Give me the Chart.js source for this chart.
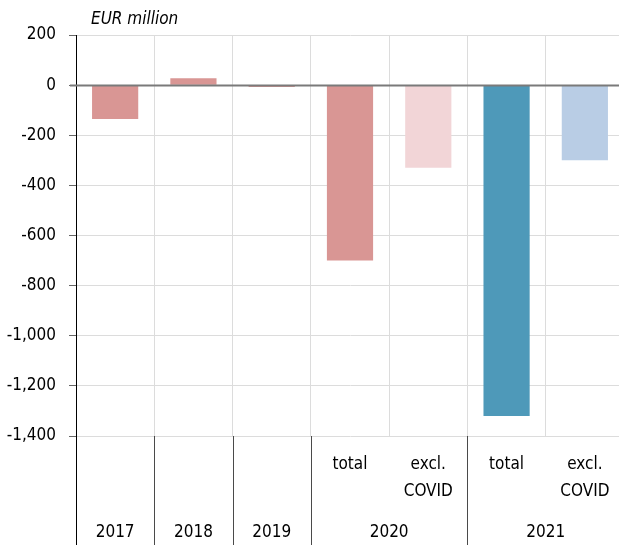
<!DOCTYPE html>
<html>
<head>
<meta charset="utf-8">
<script src="https://cdn.jsdelivr.net/npm/chart.js@4"></script>
<style>
  html, body { margin: 0; padding: 0; background: #fff; overflow: hidden; }
  #wrap { width: 630px; height: 545px; }
</style>
</head>
<body>
<div id="wrap"><canvas id="balanceChart" width="630" height="545"></canvas></div>
<script>
// budget balance, EUR million
const categories = ["2017", "2018", "2019", "2020 total", "2020 excl. COVID", "2021 total", "2021 excl. COVID"];
const subLabels = ["", "", "", "total", ["excl.", "COVID"], "total", ["excl.", "COVID"]];
const yearOfBar = ["2017", "2018", "2019", "2020", "2020", "2021", "2021"];
const values = [-135, 27, -7, -700, -330, -1320, -300];
const barColors = ["#d99694", "#d99694", "#d99694", "#d99694", "#f2d5d7", "#4e99b9", "#b9cde5"];
const yTicks = [200, 0, -200, -400, -600, -800, -1000, -1200, -1400];

const FAMILY = "'DejaVu Sans Condensed', 'DejaVu Sans', sans-serif";

// draws the unit caption, the zero line and the two-row category labels
const extras = {
  id: "extras",
  afterDatasetsDraw(chart) {
    const { ctx, chartArea, scales } = chart;
    const x = scales.x, y = scales.y;
    ctx.save();

    // zero line on top of the bars
    const y0 = Math.round(y.getPixelForValue(0)) + 0.5;
    ctx.strokeStyle = "#7a7a7a";
    ctx.lineWidth = 2;
    ctx.beginPath();
    ctx.moveTo(chartArea.left - 6, y0);
    ctx.lineTo(chartArea.right, y0);
    ctx.stroke();

    // unit caption
    ctx.fillStyle = "#000";
    ctx.font = "italic 17px " + FAMILY;
    ctx.textAlign = "left";
    ctx.textBaseline = "middle";
    ctx.fillText("EUR million", chartArea.left + 15, 20);

    // separators below the plot
    const bottom = chart.height;
    const half = (x.getPixelForValue(1) - x.getPixelForValue(0)) / 2;
    ctx.strokeStyle = "#000";
    ctx.lineWidth = 1;
    ctx.beginPath();
    ctx.moveTo(chartArea.left + 0.5, chartArea.bottom);
    ctx.lineTo(chartArea.left + 0.5, bottom);
    ctx.stroke();
    ctx.strokeStyle = "#4a4a4a";
    for (let i = 1; i < yearOfBar.length; i++) {
      if (yearOfBar[i] === yearOfBar[i - 1]) continue;
      const px = Math.round(x.getPixelForValue(i) - half) + 0.5;
      ctx.beginPath();
      ctx.moveTo(px, chartArea.bottom);
      ctx.lineTo(px, bottom);
      ctx.stroke();
    }
    const endX = Math.round(x.getPixelForValue(yearOfBar.length - 1) + half) + 0.5;
    ctx.beginPath();
    ctx.moveTo(endX, chartArea.bottom);
    ctx.lineTo(endX, bottom);
    ctx.stroke();

    // sub labels (total / excl. COVID)
    ctx.fillStyle = "#000";
    ctx.font = "17px " + FAMILY;
    ctx.textAlign = "center";
    subLabels.forEach((lab, i) => {
      const lines = Array.isArray(lab) ? lab : [lab];
      lines.forEach((t, k) => {
        if (t) ctx.fillText(t, x.getPixelForValue(i), 465 + k * 27);
      });
    });

    // year labels, centred under their bars
    let start = 0;
    for (let i = 1; i <= yearOfBar.length; i++) {
      if (i < yearOfBar.length && yearOfBar[i] === yearOfBar[start]) continue;
      const cx = (x.getPixelForValue(start) + x.getPixelForValue(i - 1)) / 2;
      ctx.fillText(yearOfBar[start], cx, 533);
      start = i;
    }
    ctx.restore();
  }
};

new Chart(document.getElementById("balanceChart"), {
  type: "bar",
  data: {
    labels: categories,
    datasets: [{
      data: values,
      backgroundColor: barColors,
      borderWidth: 0,
      barPercentage: 0.59,
      categoryPercentage: 1
    }]
  },
  options: {
    responsive: false,
    animation: false,
    layout: { padding: { top: 35, right: 6, left: 0, bottom: 0 } },
    plugins: { legend: { display: false }, tooltip: { enabled: false } },
    scales: {
      x: {
        offset: true,
        grid: { color: "#dcdcdc", offset: true, drawTicks: false },
        border: { display: false },
        ticks: { display: false },
        afterFit(s) { s.height = 109; }
      },
      y: {
        min: -1400,
        max: 200,
        afterBuildTicks(s) { s.ticks = yTicks.map(v => ({ value: v })); },
        grid: { color: "#dcdcdc", tickColor: "#666", tickLength: 7 },
        border: { color: "#000", width: 1 },
        ticks: {
          color: "#000",
          padding: 13,
          font: { family: FAMILY, size: 17 },
          callback: v => v.toLocaleString("en-US")
        },
        afterFit(s) { s.width = 76; }
      }
    }
  },
  plugins: [extras]
});
</script>
</body>
</html>
